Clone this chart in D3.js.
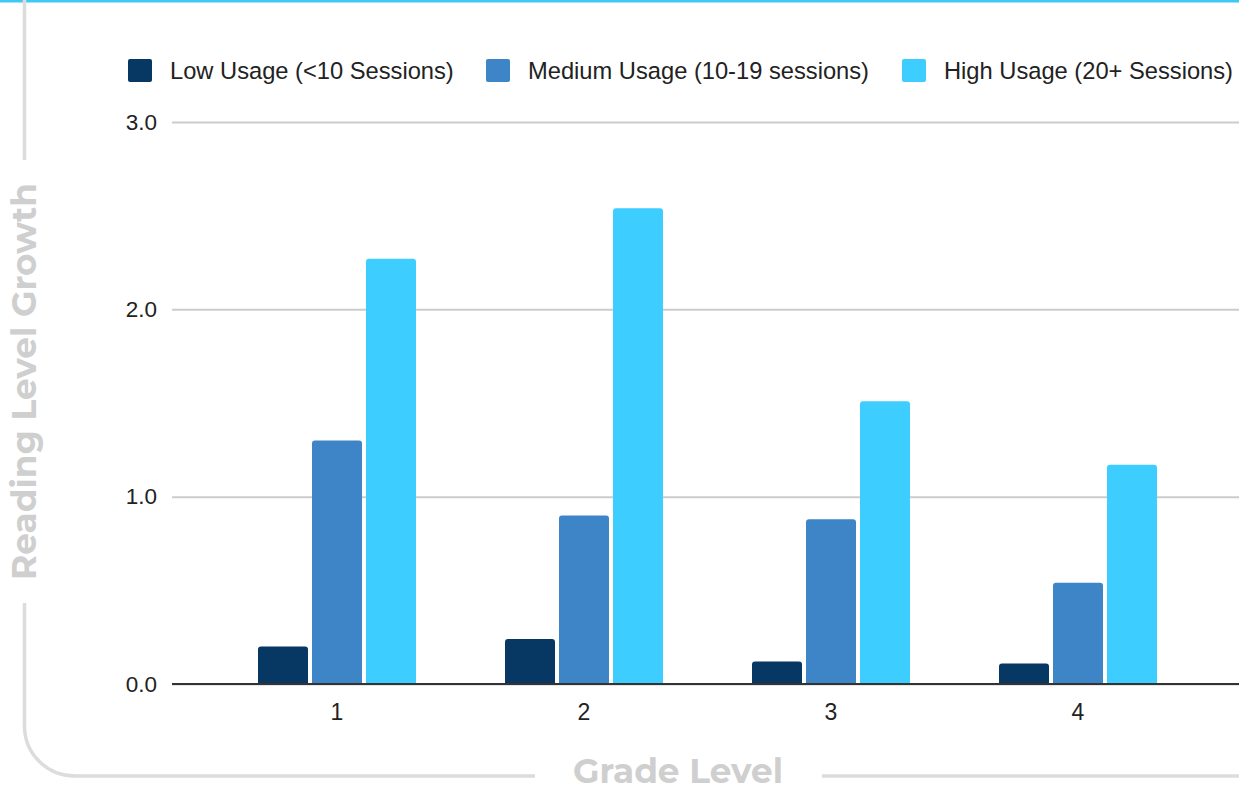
<!DOCTYPE html>
<html>
<head>
<meta charset="utf-8">
<script src="https://cdn.jsdelivr.net/npm/d3@7"></script>
<style>
  html, body { margin: 0; padding: 0; background: #fff; }
  svg { display: block; }
</style>
</head>
<body>
<svg id="chart" width="1239" height="787"></svg>
<script>
// Reading level growth by grade and app usage
const grades = ["1", "2", "3", "4"];
const seriesNames = [
  "Low Usage (<10 Sessions)",
  "Medium Usage (10-19 sessions)",
  "High Usage (20+ Sessions)"
];
const lowUsage = [0.20, 0.24, 0.12, 0.11];
const mediumUsage = [1.30, 0.90, 0.88, 0.54];
const highUsage = [2.27, 2.54, 1.51, 1.17];
const yTicks = [0, 1, 2, 3];
const seriesColors = ["#073763", "#3d85c6", "#3ecdff"];

const values = [lowUsage, mediumUsage, highUsage];

const svg = d3.select("#chart");
const W = 1239, H = 787;

// accent strip along the top edge
svg.append("rect").attr("x", 0).attr("y", 0).attr("width", W).attr("height", 2.5)
  .attr("fill", "#3ec8f4");

// scales
const y = d3.scaleLinear().domain([0, 3]).range([684, 122]);
const x = d3.scaleBand().domain(grades).range([213.5, 1201.5]);
const xi = d3.scaleBand().domain(d3.range(seriesNames.length)).range([-79, 79]).paddingInner(4 / 54);

const gridLeft = 172, gridRight = W;

// gridlines + y tick labels
const yAxis = d3.axisLeft(y).tickValues(yTicks).tickFormat(d3.format(".1f"))
  .tickSize(-(gridRight - gridLeft)).tickPadding(15);
const gy = svg.append("g").attr("transform", `translate(${gridLeft},0)`).call(yAxis);
gy.select(".domain").remove();
gy.selectAll(".tick line").attr("stroke", "#cccccc").attr("stroke-width", 2);
gy.selectAll(".tick text")
  .attr("font-family", "'Liberation Sans', Arial, sans-serif")
  .attr("font-size", 22.5).attr("fill", "#222");

// bars with slightly rounded tops
function topRounded(x0, y0, w, h, r) {
  r = Math.min(r, h, w / 2);
  return `M${x0},${y0 + h}V${y0 + r}Q${x0},${y0} ${x0 + r},${y0}H${x0 + w - r}Q${x0 + w},${y0} ${x0 + w},${y0 + r}V${y0 + h}Z`;
}

const groups = svg.append("g").selectAll("g").data(grades).join("g")
  .attr("transform", g => `translate(${x(g) + x.bandwidth() / 2},0)`);

groups.selectAll("path")
  .data((g, gi) => values.map((vals, si) => ({ si, v: vals[gi] })))
  .join("path")
  .attr("fill", d => seriesColors[d.si])
  .attr("d", d => topRounded(xi(d.si), y(d.v), xi.bandwidth(), y(0) - y(d.v), 3));

// baseline
svg.append("line").attr("x1", gridLeft).attr("x2", gridRight)
  .attr("y1", y(0)).attr("y2", y(0)).attr("stroke", "#333").attr("stroke-width", 2);

// x tick labels
const xAxis = d3.axisBottom(x).tickSize(0).tickPadding(20);
const gx = svg.append("g").attr("transform", `translate(0,${y(0)})`).call(xAxis);
gx.select(".domain").remove();
gx.selectAll(".tick text")
  .attr("font-family", "'Liberation Sans', Arial, sans-serif")
  .attr("font-size", 23).attr("fill", "#222");

// legend
const legendX = [128, 486, 902];
const legend = svg.append("g").selectAll("g").data(seriesNames).join("g")
  .attr("transform", (d, i) => `translate(${legendX[i]},0)`);
legend.append("rect").attr("x", 0).attr("y", 59).attr("width", 24).attr("height", 23)
  .attr("rx", 2).attr("fill", (d, i) => seriesColors[i]);
legend.append("text").attr("x", 42).attr("y", 79)
  .attr("font-family", "'Liberation Sans', Arial, sans-serif")
  .attr("font-size", 23.7).attr("fill", "#222").text(d => d);

// surrounding frame with gaps for the axis titles
const frame = "#dcdcdc";
const fx = 24.5, fy = 776, rad = 50;
svg.append("path").attr("fill", "none").attr("stroke", frame).attr("stroke-width", 3.5)
  .attr("d", `M${fx},0V160`);
svg.append("path").attr("fill", "none").attr("stroke", frame).attr("stroke-width", 3.5)
  .attr("d", `M${fx},603V${fy - rad}A${rad},${rad} 0 0 0 ${fx + rad},${fy}H535`);
svg.append("path").attr("fill", "none").attr("stroke", frame).attr("stroke-width", 3.5)
  .attr("d", `M822,${fy}H${W}`);

// axis titles, sized to fit their gaps
function fitText(sel, target) {
  const len = sel.node().getComputedTextLength();
  const fs = parseFloat(sel.attr("font-size"));
  sel.attr("font-size", fs * target / len);
}
const titleFont = "Montserrat, 'Open Sans', 'Noto Sans', sans-serif";
const xTitle = svg.append("text").attr("x", 678).attr("y", 783)
  .attr("text-anchor", "middle").attr("font-family", titleFont).attr("font-weight", 700)
  .attr("font-size", 34).attr("fill", "#cfcfcf").text("Grade Level");
fitText(xTitle, 210);

const yTitle = svg.append("text")
  .attr("transform", "translate(36,381.5) rotate(-90)")
  .attr("text-anchor", "middle").attr("font-family", titleFont).attr("font-weight", 700)
  .attr("font-size", 34).attr("fill", "#cfcfcf").text("Reading Level Growth");
fitText(yTitle, 397);
</script>
</body>
</html>
